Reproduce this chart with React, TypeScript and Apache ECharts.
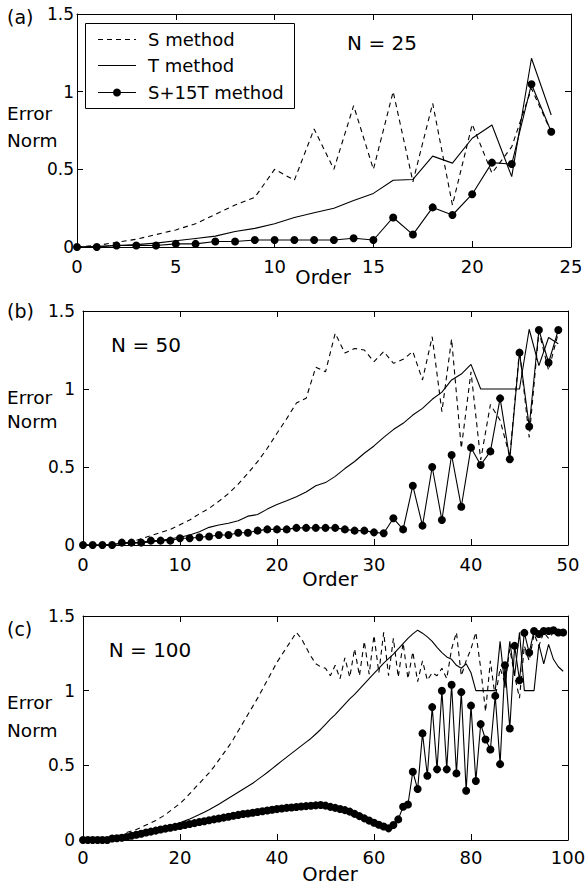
import React, { useEffect, useRef } from "react";
import * as echarts from "echarts";

// ---------- data ----------
const ordersA = Array.from({ length: 25 }, (_, i) => i);
const sMethodA = [0, 0.01, 0.03, 0.05, 0.08, 0.11, 0.15, 0.21, 0.27, 0.32, 0.5, 0.43, 0.76, 0.5, 0.91, 0.5, 1.0, 0.42, 0.925, 0.27, 0.79, 0.475, 0.645, 1.02, 0.74];
const tMethodA = [0, 0.005, 0.01, 0.015, 0.025, 0.04, 0.055, 0.07, 0.1, 0.12, 0.15, 0.19, 0.22, 0.25, 0.3, 0.345, 0.43, 0.435, 0.585, 0.54, 0.7, 0.785, 0.453, 1.215, 0.85];
const stMethodA = [0, 0, 0.01, 0.01, 0.01, 0.02, 0.02, 0.035, 0.035, 0.045, 0.045, 0.045, 0.045, 0.045, 0.056, 0.045, 0.19, 0.08, 0.255, 0.206, 0.34, 0.543, 0.534, 1.048, 0.742];

const ordersB = Array.from({ length: 50 }, (_, i) => i);
const sMethodB = [
  0, 0, 0, 0, 0.01, 0.02, 0.04, 0.06, 0.08, 0.1,
  0.13, 0.16, 0.2, 0.235, 0.28, 0.33, 0.39, 0.46, 0.534, 0.62,
  0.716, 0.81, 0.91, 0.94, 1.14, 1.11, 1.357, 1.23, 1.26, 1.25,
  1.175, 1.24, 1.165, 1.19, 1.24, 1.058, 1.335, 0.855, 1.32, 0.62,
  1.11, 0.545, 0.9, 0.8, 0.566, 1.25, 0.69, 1.37, 1.12, 1.36,
];
const tMethodB = [
  0, 0, 0, 0.005, 0.01, 0.012, 0.015, 0.02, 0.028, 0.04,
  0.05, 0.064, 0.085, 0.113, 0.128, 0.139, 0.155, 0.185, 0.195, 0.23,
  0.26, 0.284, 0.31, 0.34, 0.38, 0.4, 0.44, 0.49, 0.535, 0.588,
  0.635, 0.69, 0.74, 0.78, 0.833, 0.876, 0.934, 0.98, 1.058, 1.096,
  1.158, 1.0, 1.0, 1.0, 1.0, 1.0, 1.383, 1.15, 1.33, 1.29,
];
const stMethodB = [
  0, 0, 0, 0, 0.015, 0.015, 0.015, 0.028, 0.028, 0.028,
  0.043, 0.043, 0.05, 0.055, 0.064, 0.064, 0.079, 0.079, 0.092, 0.1,
  0.1, 0.1, 0.11, 0.11, 0.11, 0.11, 0.11, 0.1, 0.092, 0.092,
  0.081, 0.075, 0.171, 0.1, 0.38, 0.124, 0.5, 0.16, 0.577, 0.245,
  0.624, 0.513, 0.6, 0.94, 0.55, 1.233, 0.76, 1.378, 1.17, 1.378,
];

const ordersC = Array.from({ length: 100 }, (_, i) => i);
const sMethodC = [
  0, 0, 0, 0, 0, 0.005, 0.01, 0.02, 0.03, 0.05,
  0.06, 0.07, 0.085, 0.1, 0.115, 0.13, 0.15, 0.17, 0.195, 0.22,
  0.245, 0.275, 0.31, 0.345, 0.38, 0.415, 0.45, 0.49, 0.535, 0.58,
  0.625, 0.675, 0.73, 0.785, 0.84, 0.895, 0.95, 1.01, 1.07, 1.13,
  1.19, 1.24, 1.29, 1.34, 1.39, 1.35, 1.29, 1.23, 1.18, 1.16,
  1.15, 1.1, 1.17, 1.08, 1.22, 1.09, 1.28, 1.1, 1.33, 1.11,
  1.37, 1.12, 1.39, 1.1, 1.35, 1.09, 1.32, 1.08, 1.26, 1.06,
  1.2, 1.07, 1.12, 1.1, 1.15, 1.08, 1.28, 1.39, 1.1, 1.2,
  1.28, 1.39, 1.15, 0.86, 1.2, 0.95, 1.15, 1.05, 1.28, 1.1,
  0.95, 1.3, 1.2, 1.38, 1.3, 1.39, 1.35, 1.39, 1.38, 1.39,
];
const tMethodC = [
  0, 0, 0, 0, 0, 0.002, 0.005, 0.008, 0.012, 0.016,
  0.025, 0.03, 0.036, 0.043, 0.05, 0.058, 0.067, 0.078, 0.09, 0.103,
  0.116, 0.128, 0.141, 0.155, 0.17, 0.186, 0.203, 0.221, 0.24, 0.26,
  0.28, 0.3, 0.32, 0.34, 0.36, 0.38, 0.404, 0.428, 0.452, 0.478,
  0.504, 0.53, 0.555, 0.58, 0.605, 0.63, 0.655, 0.68, 0.71, 0.74,
  0.775, 0.81, 0.84, 0.875, 0.91, 0.945, 0.975, 1.01, 1.045, 1.08,
  1.115, 1.15, 1.185, 1.215, 1.245, 1.28, 1.315, 1.35, 1.38, 1.405,
  1.385, 1.36, 1.33, 1.29, 1.255, 1.226, 1.21, 1.17, 1.15, 1.18,
  1.12, 1.0, 1.0, 1.0, 1.0, 1.0, 1.33, 1.02, 1.33, 1.1,
  1.39, 1.0, 1.0, 1.0, 1.31, 1.18, 1.31, 1.21, 1.16, 1.13,
];
const stMethodC = [
  0, 0, 0, 0, 0, 0, 0.01, 0.012, 0.015, 0.02,
  0.028, 0.035, 0.042, 0.05, 0.056, 0.063, 0.07, 0.076, 0.082, 0.088,
  0.094, 0.1, 0.107, 0.113, 0.12, 0.126, 0.132, 0.138, 0.144, 0.15,
  0.156, 0.162, 0.168, 0.174, 0.178, 0.183, 0.188, 0.193, 0.198, 0.203,
  0.207, 0.211, 0.215, 0.218, 0.221, 0.224, 0.227, 0.229, 0.232, 0.234,
  0.23, 0.222, 0.215, 0.208, 0.2, 0.19, 0.175, 0.16, 0.145, 0.13,
  0.115, 0.102, 0.09, 0.078, 0.1, 0.138, 0.223, 0.238, 0.457, 0.341,
  0.714, 0.43, 0.89, 0.473, 1.0, 0.473, 1.04, 0.446, 0.99, 0.33,
  0.9, 0.395, 0.776, 0.673, 0.606, 0.965, 0.508, 1.17, 0.747, 1.3,
  1.07, 1.387, 1.255, 1.4, 1.38, 1.4, 1.4, 1.405, 1.39, 1.39,
];

const xMaxes = [25, 50, 100];
const xIntervals = [5, 10, 20];
const yTicks = [0, 0.5, 1, 1.5];
const panelLabels = ["(a)", "(b)", "(c)"];
const nLabels = ["N = 25", "N = 50", "N = 100"];
const legendNames = ["S method", "T method", "S+15T method"];

const FONT = "DejaVu Sans";

const grids = [
  { left: 77, top: 14, width: 494, height: 233 },
  { left: 83, top: 311, width: 485, height: 234 },
  { left: 83, top: 616, width: 485, height: 224 },
];

const pairs = (xs: number[], ys: number[]) => xs.map((x, i) => [x, ys[i]]);

export default function App() {
  const ref = useRef<HTMLDivElement>(null);

  useEffect(() => {
    if (!ref.current) return;
    const chart = echarts.init(ref.current, undefined, { renderer: "svg" });

    const panels = [
      { xs: ordersA, s: sMethodA, t: tMethodA, st: stMethodA },
      { xs: ordersB, s: sMethodB, t: tMethodB, st: stMethodB },
      { xs: ordersC, s: sMethodC, t: tMethodC, st: stMethodC },
    ];

    const xAxis: any[] = [];
    const yAxis: any[] = [];
    const series: any[] = [];
    const lineCol = "#000";
    const yLabelMargins = [3, 8, 8];
    const xLabelMargins = [10, 10, 8];

    grids.forEach((g, i) => {
      const baseX = {
        type: "value",
        gridIndex: i,
        min: 0,
        max: xMaxes[i],
        interval: xIntervals[i],
        splitLine: { show: false },
        axisLine: { show: true, onZero: false, lineStyle: { color: lineCol, width: 1 } },
        axisTick: { show: true, inside: true, length: 6, lineStyle: { color: lineCol } },
      };
      xAxis.push({
        ...baseX,
        position: "bottom",
        axisLabel: { show: true, color: "#000", fontSize: 18, fontFamily: FONT, margin: xLabelMargins[i] },
      });
      xAxis.push({ ...baseX, position: "top", axisLabel: { show: false } });
      const baseY = {
        type: "value",
        gridIndex: i,
        min: yTicks[0],
        max: yTicks[yTicks.length - 1],
        interval: 0.5,
        splitLine: { show: false },
        axisLine: { show: true, onZero: false, lineStyle: { color: lineCol, width: 1 } },
        axisTick: { show: true, inside: true, length: 6, lineStyle: { color: lineCol } },
      };
      yAxis.push({
        ...baseY,
        position: "left",
        axisLabel: { show: true, color: "#000", fontSize: 17, fontFamily: FONT, margin: yLabelMargins[i] },
      });
      yAxis.push({ ...baseY, position: "right", axisLabel: { show: false } });

      const p = panels[i];
      series.push({
        name: legendNames[0],
        type: "line",
        xAxisIndex: i * 2,
        yAxisIndex: i * 2,
        data: pairs(p.xs, p.s),
        symbol: "none",
        lineStyle: { color: "#000", width: 1.1, type: [5, 4] },
        z: 2,
      });
      series.push({
        name: legendNames[1],
        type: "line",
        xAxisIndex: i * 2,
        yAxisIndex: i * 2,
        data: pairs(p.xs, p.t),
        symbol: "none",
        lineStyle: { color: "#000", width: 1.1 },
        z: 3,
      });
      series.push({
        name: legendNames[2],
        type: "line",
        xAxisIndex: i * 2,
        yAxisIndex: i * 2,
        data: pairs(p.xs, p.st),
        symbol: "circle",
        symbolSize: 8,
        showSymbol: true,
        itemStyle: { color: "#000" },
        lineStyle: { color: "#000", width: 1.1 },
        z: 4,
      });
    });

    const txt = (text: string, x: number, y: number, fontSize: number, align = "left") => ({
      type: "text",
      x,
      y,
      z: 100,
      style: {
        text,
        fill: "#000",
        fontSize,
        fontFamily: FONT,
        align,
        verticalAlign: "middle",
        textAlign: align,
        textVerticalAlign: "middle",
      },
    });

    const errorY = [
      [113, 140],
      [397, 421],
      [702, 730],
    ];
    const panelLabelY = [16.5, 311, 629];
    const nPos = [
      [382, 42.5],
      [146, 345],
      [150, 649.5],
    ];
    const orderPos = [
      [323, 277.5],
      [330, 579],
      [330, 874.5],
    ];

    const graphic: any[] = [];
    for (let i = 0; i < 3; i++) {
      graphic.push(txt(panelLabels[i], 7, panelLabelY[i], 19));
      graphic.push(txt("Error", 7, errorY[i][0], 18.5));
      graphic.push(txt("Norm", 7, errorY[i][1], 18.5));
      graphic.push(txt(nLabels[i], nPos[i][0], nPos[i][1], 20, "center"));
      graphic.push(txt("Order", orderPos[i][0], orderPos[i][1], 19.5, "center"));
    }

    // legend box (panel a)
    graphic.push({
      type: "rect",
      z: 99,
      shape: { x: 85.5, y: 23.5, width: 209, height: 85 },
      style: { fill: "#fff", stroke: "#000", lineWidth: 1 },
    });
    const legY = [39.5, 65.5, 92.5];
    graphic.push({
      type: "line",
      z: 100,
      shape: { x1: 98, y1: legY[0], x2: 136, y2: legY[0] },
      style: { stroke: "#000", lineWidth: 1.1, lineDash: [5, 4] },
    });
    graphic.push({
      type: "line",
      z: 100,
      shape: { x1: 98, y1: legY[1], x2: 136, y2: legY[1] },
      style: { stroke: "#000", lineWidth: 1.1 },
    });
    graphic.push({
      type: "line",
      z: 100,
      shape: { x1: 98, y1: legY[2], x2: 136, y2: legY[2] },
      style: { stroke: "#000", lineWidth: 1.1 },
    });
    graphic.push({
      type: "circle",
      z: 101,
      shape: { cx: 117, cy: legY[2], r: 4 },
      style: { fill: "#000" },
    });
    legendNames.forEach((n, i) => graphic.push(txt(n, 148, legY[i] - 0.5, 18)));

    chart.setOption({
      animation: false,
      backgroundColor: "#fff",
      textStyle: { fontFamily: FONT },
      grid: grids.map((g) => ({ ...g, containLabel: false, outerBoundsMode: "none", show: false })),
      xAxis,
      yAxis,
      series,
      graphic,
    });

    return () => chart.dispose();
  }, []);

  return (
    <div
      ref={ref}
      style={{ position: "absolute", left: 0, top: 0, width: 586, height: 885, background: "#fff" }}
    />
  );
}
